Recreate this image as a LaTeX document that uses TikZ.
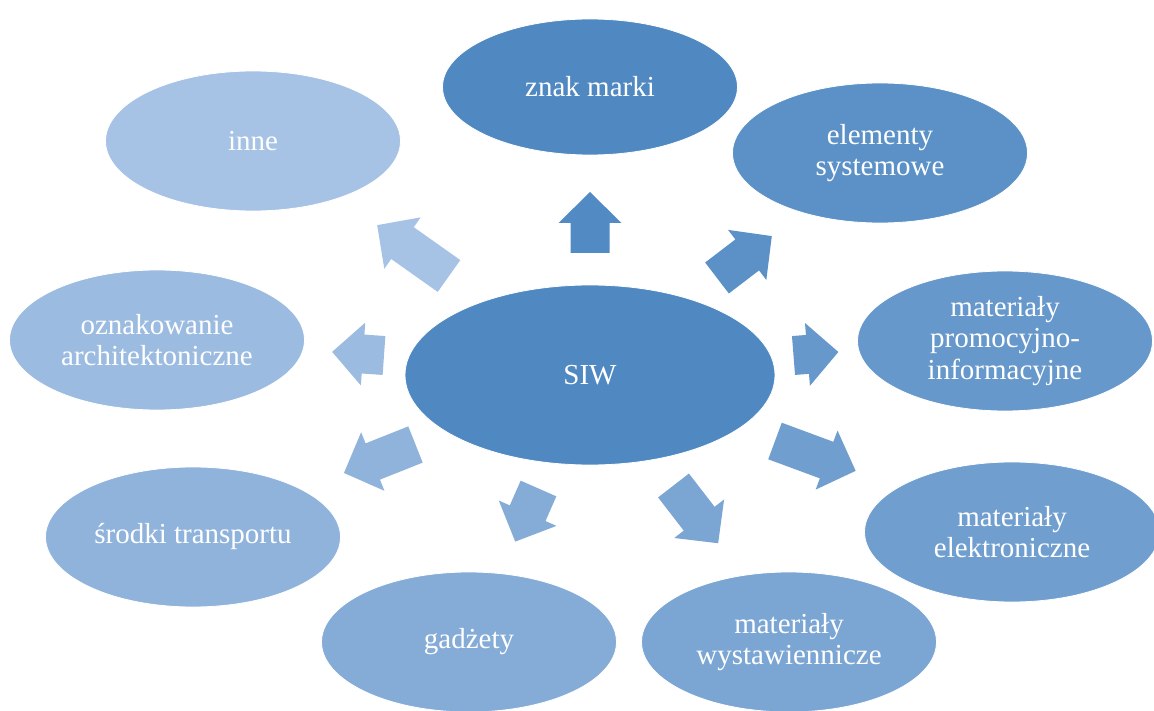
\documentclass[tikz,border=0pt]{standalone}
\usepackage{fontspec}
\setmainfont{Liberation Serif}
\usetikzlibrary{shapes.geometric}
\definecolor{c1}{RGB}{80,137,194}
\definecolor{c2}{RGB}{91,145,199}
\definecolor{c3}{RGB}{102,152,203}
\definecolor{c4}{RGB}{112,159,207}
\definecolor{c5}{RGB}{123,166,211}
\definecolor{c6}{RGB}{133,172,215}
\definecolor{c7}{RGB}{144,179,220}
\definecolor{c8}{RGB}{155,187,224}
\definecolor{c9}{RGB}{166,194,229}
\newcommand\blockarr[5]{%
  \fill[#5, shift={(#1,#2)}, rotate=#3]
    (0,-19.5) -- (#4-31,-19.5) -- (#4-31,-31.5) -- (#4,0) --
    (#4-31,31.5) -- (#4-31,19.5) -- (0,19.5) -- cycle;}
\begin{document}
\begin{tikzpicture}[x=1pt,y=-1pt,
  bubble/.style={ellipse, draw=white, line width=0.8pt, minimum width=295pt,
    minimum height=140pt, inner sep=0pt, text=white, align=center,
    font=\fontsize{29}{31.5}\selectfont}]
\useasboundingbox (0,0) rectangle (1154,711);
\begin{scope}
\clip (0,0) rectangle (1154,711);
\node[bubble, fill=c1, minimum width=370pt, minimum height=180pt] (siw) at (590,375) {SIW};
\node[bubble, fill=c1, minimum height=136pt] (znak) at (590,87) {znak marki};
\node[bubble, fill=c2] (elem) at (880,153) {elementy\\systemowe};
\node[bubble, fill=c3] (promo) at (1005,341) {materiały\\promocyjno-\\informacyjne};
\node[bubble, fill=c4] (elek) at (1012,532) {materiały\\elektroniczne};
\node[bubble, fill=c5] (wyst) at (789,642) {materiały\\wystawiennicze};
\node[bubble, fill=c6] (gadz) at (469,642) {gadżety};
\node[bubble, fill=c7] (srod) at (193,537) {środki transportu};
\node[bubble, fill=c8] (ozn) at (157,340) {oznakowanie\\architektoniczne};
\node[bubble, fill=c9] (inne) at (253,141) {inne};
\end{scope}
\blockarr{590}{253}{90}{61}{c1!85!c2}
\blockarr{717}{278}{37.4}{69}{c2}
\blockarr{449}{276}{144.7}{88}{c9}
\blockarr{793.5}{355.5}{4.5}{45}{c3}
\blockarr{384}{355.5}{176}{52}{c8}
\blockarr{775}{441}{-20.3}{86}{c4}
\blockarr{415.5}{444.5}{201.7}{77}{c7}
\blockarr{538.5}{488.5}{246.3}{58}{c6}
\blockarr{673.5}{485.5}{-52.3}{73}{c5}
\end{tikzpicture}
\end{document}
